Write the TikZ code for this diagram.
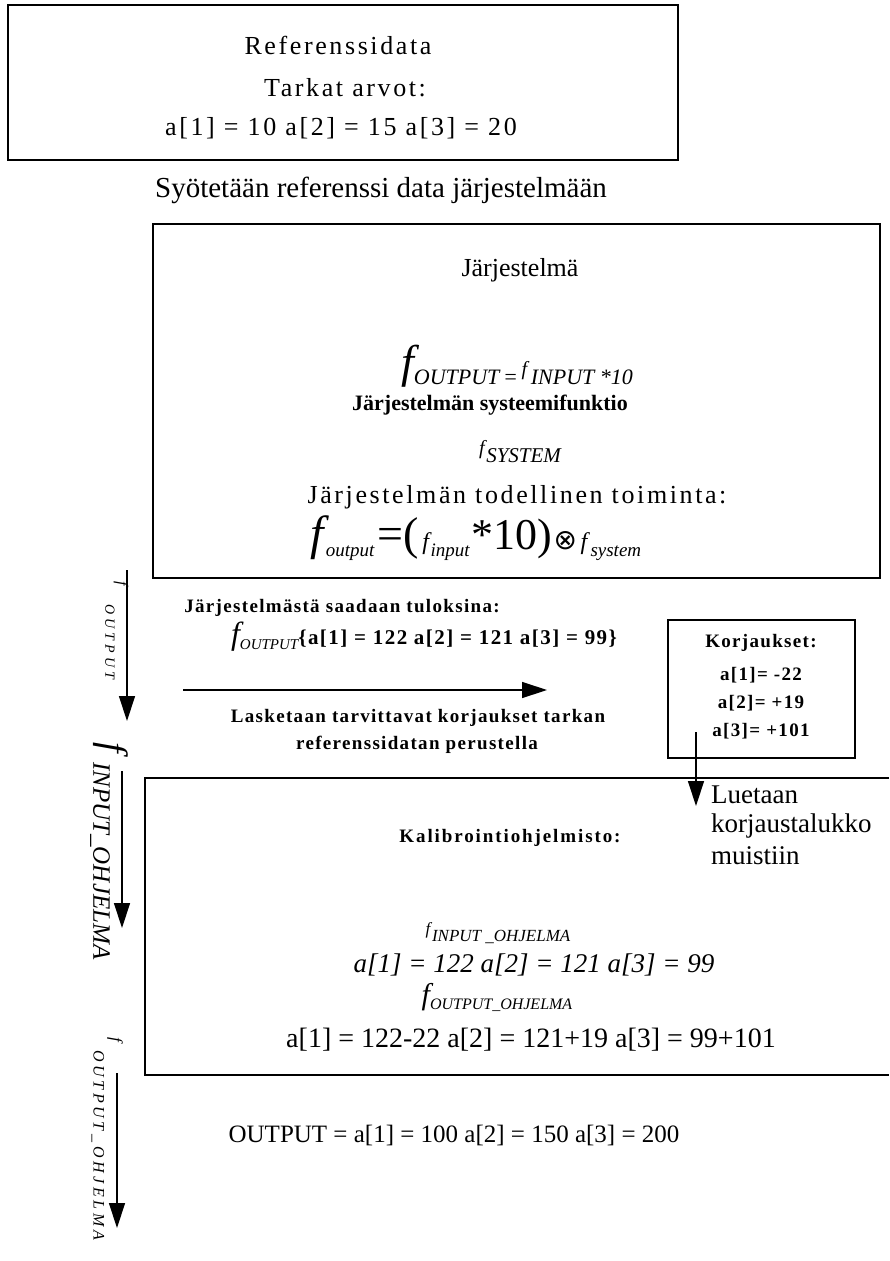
\documentclass[tikz,border=0pt]{standalone}
\usepackage{fontspec}
\setmainfont{Liberation Serif}
\newfontfamily\spc[LetterSpace=10]{Liberation Serif}
\newfontfamily\spcb[LetterSpace=7]{Liberation Serif}
\newfontfamily\spcw[LetterSpace=30]{Liberation Serif}
\newfontfamily\spcv[LetterSpace=23]{Liberation Serif}
\newfontfamily\symf{DejaVu Sans}
\usetikzlibrary{arrows.meta}

\newcommand\fsz[1]{\fontsize{#1}{#1}\selectfont}

\tikzset{
  frame/.style={draw, line width=1.4pt},
  txt/.style={inner sep=0pt, anchor=center},
  flow/.style={line width=1.3pt, -{Triangle[length=25pt,width=16pt]}},
}

\begin{document}
\begin{tikzpicture}[x=1pt,y=-1pt]
\useasboundingbox (0,0) rectangle (889,1261);

% reference data box
\draw[frame] (8,5) rectangle (678,160);
\node[txt] (refT) at (338,45) {\spc\fsz{26}Referenssidata};
\node[txt] (refA) at (345,88) {\spc\fsz{26}Tarkat arvot:};
\node[txt] (refV) at (341,128) {\spc\fsz{26}a[1] = 10 a[2] = 15 a[3] = 20};

\node[txt] (feed) at (381,190) {\fsz{29}Syötetään referenssi data järjestelmään};

% system box
\draw[frame] (153,224) rectangle (880,578);
\node[txt] (sysT) at (520,270) {\fsz{26}Järjestelmä};
\node[txt] (sysF) at (517,366) {\itshape{\fsz{46}f}\raisebox{-7pt}{\fsz{22}OUTPUT\,=\,\raisebox{9pt}{\fsz{20}f}\,INPUT *10}};
\node[txt] (sysN) at (490,405) {\bfseries\fsz{22}Järjestelmän systeemifunktio};
\node[txt] (sysS) at (520,452) {\itshape\raisebox{8pt}{\fsz{20}f}\,{\fsz{21}SYSTEM}};
\node[txt] (sysR) at (517,497) {\spc\fsz{26}Järjestelmän todellinen toiminta:};
\node[txt] (sysE) at (476,538) {{\itshape\fsz{48}f}\,\raisebox{-7pt}{\itshape\fsz{19}output}\,\,{\fsz{46}=(}\,\,{\itshape\fsz{24}f}\,\raisebox{-7pt}{\itshape\fsz{19}input}\,{\fsz{44}*10)}\,{\symf\fsz{28}⊗}\,\,{\itshape\fsz{24}f}\,\,\raisebox{-7pt}{\itshape\fsz{19}system}};

% measured results
\node[txt] (resT) at (342,608) {\spcb\bfseries\fsz{19}Järjestelmästä saadaan tuloksina:};
\node[txt] (resV) at (424,637) {{\itshape\fsz{32}f}\raisebox{-5pt}{\itshape\fsz{15}OUTPUT}{\spcb\bfseries\fsz{21}\{a[1] = 122 a[2] = 121 a[3] = 99\}}};

\coordinate (calcS) at (183,690);
\coordinate (calcE) at (547,690);
\draw[flow] (calcS) -- (calcE);
\node[txt] (calc1) at (418,718) {\spcb\bfseries\fsz{19}Lasketaan tarvittavat korjaukset tarkan};
\node[txt] (calc2) at (417,745) {\spcb\bfseries\fsz{19}referenssidatan perustella};

% corrections box
\draw[frame] (668,620) rectangle (855,758);
\node[txt] (corT) at (761,643) {\spcb\bfseries\fsz{19}Korjaukset:};
\node[txt] (cor1) at (761,675) {\spcb\bfseries\fsz{19}a[1]= -22};
\node[txt] (cor2) at (761,703) {\spcb\bfseries\fsz{19}a[2]= +19};
\node[txt] (cor3) at (761,731) {\spcb\bfseries\fsz{19}a[3]= +101};

\coordinate (readS) at (696,732);
\coordinate (readE) at (696,806);
\draw[flow] (readS) -- (readE);
\node[txt, anchor=west] (read1) at (711,795) {\fsz{27}Luetaan};
\node[txt, anchor=west] (read2) at (711,826) {\fsz{27}korjaustalukko};
\node[txt, anchor=west] (read3) at (711,856) {\fsz{27}muistiin};

% calibration software box, open on the right
\draw[line width=1.4pt] (889,778) -- (145,778) -- (145,1075) -- (889,1075);
\node[txt] (kalT) at (510,838) {\spc\bfseries\fsz{19}Kalibrointiohjelmisto:};
\node[txt] (kalI) at (498,933) {\itshape\raisebox{7pt}{\fsz{17}f}\,{\fsz{17}INPUT \_OHJELMA}};
\node[txt] (kalV) at (534,965) {\itshape\fsz{27}a[1] = 122 a[2] = 121 a[3] = 99};
\node[txt] (kalO) at (497,997) {\itshape{\fsz{30}f}\raisebox{-5pt}{\fsz{16}OUTPUT\_OHJELMA}};
\node[txt] (kalC) at (531,1040) {\fsz{28}a[1] = 122-22 a[2] = 121+19 a[3] = 99+101};

\node[txt] (outV) at (454,1135) {\fsz{25}OUTPUT = a[1] = 100 a[2] = 150 a[3] = 200};

% signal arrows down the left side
\coordinate (sA) at (127,570);
\coordinate (eA) at (127,721);
\draw[flow] (sA) -- (eA);
\node[txt, rotate=-90] (labAf) at (121,584) {\itshape\fsz{16}f};
\node[txt, rotate=-90, anchor=west] (labA) at (110,604) {\spcw\itshape\fsz{14}OUTPUT};

\coordinate (sB) at (122,771);
\coordinate (eB) at (122,928);
\draw[flow] (sB) -- (eB);
\node[txt, rotate=-90] (labBf) at (111,748) {\itshape\fsz{38}f};
\node[txt, rotate=-90, anchor=west] (labB) at (100,762) {\itshape\fsz{25}INPUT\_OHJELMA};

\coordinate (sC) at (117,1073);
\coordinate (eC) at (117,1228);
\draw[flow] (sC) -- (eC);
\node[txt, rotate=-90] (labCf) at (115,1040) {\itshape\fsz{17}f};
\node[txt, rotate=-90, anchor=west] (labC) at (98,1050) {\spcv\itshape\fsz{16}OUTPUT\_OHJELMA};
\end{tikzpicture}
\end{document}
